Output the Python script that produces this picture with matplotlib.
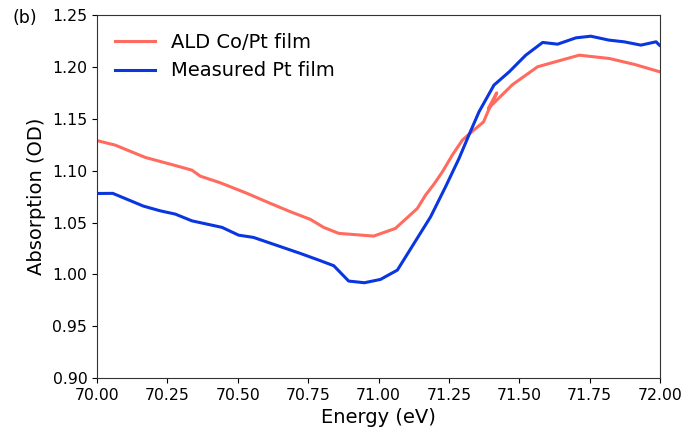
import matplotlib
matplotlib.use("Agg")
import matplotlib.pyplot as plt

ald_energy = [70.00, 70.064, 70.171, 70.272, 70.337, 70.367, 70.438, 70.533, 70.616, 70.687,
              70.758, 70.805, 70.859, 70.983, 71.060, 71.138, 71.167, 71.197, 71.227, 71.262,
              71.298, 71.327, 71.373, 71.387, 71.420, 71.390, 71.476, 71.565, 71.636, 71.713,
              71.820, 71.909, 72.000]
ald_abs = [1.129, 1.1247, 1.1128, 1.1054, 1.1005, 1.0947, 1.0883, 1.0781, 1.0684, 1.0604,
           1.0530, 1.0453, 1.0395, 1.0369, 1.0443, 1.0636, 1.0764, 1.0870, 1.0989, 1.1150,
           1.1295, 1.1365, 1.1470, 1.1560, 1.1750, 1.1600, 1.1830, 1.2002, 1.2056, 1.2114,
           1.2082, 1.2025, 1.1953]

pt_energy = [70.00, 70.056, 70.165, 70.224, 70.278, 70.337, 70.444, 70.503, 70.556, 70.722,
             70.794, 70.841, 70.894, 70.950, 71.007, 71.067, 71.126, 71.185, 71.238, 71.286,
             71.321, 71.357, 71.410, 71.464, 71.523, 71.583, 71.636, 71.701, 71.754, 71.819,
             71.872, 71.932, 71.986, 71.998, 72.03]
pt_abs = [1.0780, 1.0781, 1.0658, 1.0613, 1.0581, 1.0516, 1.0453, 1.0378, 1.0356, 1.0202,
          1.0131, 1.0083, 0.9935, 0.9919, 0.9951, 1.0041, 1.0298, 1.0555, 1.0844, 1.1118,
          1.1343, 1.1568, 1.1825, 1.1953, 1.2114, 1.2237, 1.2220, 1.2281, 1.2297, 1.2259,
          1.2243, 1.2211, 1.2243, 1.2210, 1.2150]

xticks = [70.00, 70.25, 70.50, 70.75, 71.00, 71.25, 71.50, 71.75, 72.00]
yticks = [0.90, 0.95, 1.00, 1.05, 1.10, 1.15, 1.20, 1.25]

fig = plt.figure(figsize=(6.98, 4.33), dpi=100)
ax = fig.add_axes([0.139, 0.127, 0.8066, 0.838])
ax.plot(ald_energy, ald_abs, color='#FF6B5E', lw=2.2, label='ALD Co/Pt film')
ax.plot(pt_energy, pt_abs, color='#0A36E0', lw=2.2, label='Measured Pt film')
ax.set_xlim(70, 72)
ax.set_ylim(0.90, 1.25)
ax.set_xticks(xticks)
ax.set_xticklabels([f"{v:.2f}" for v in xticks])
ax.set_yticks(yticks)
ax.set_yticklabels([f"{v:.2f}" for v in yticks])
ax.tick_params(labelsize=11.3)
for s in ax.spines.values():
    s.set_color('#333333')
ax.set_xlabel('Energy (eV)', fontsize=14)
ax.set_ylabel('Absorption (OD)', fontsize=14)
ax.legend(loc='upper left', frameon=False, fontsize=14, handlelength=2.1)
fig.text(0.018, 0.958, '(b)', fontsize=12.5, va='center', ha='left')
fig.savefig('out.png', dpi=100)
